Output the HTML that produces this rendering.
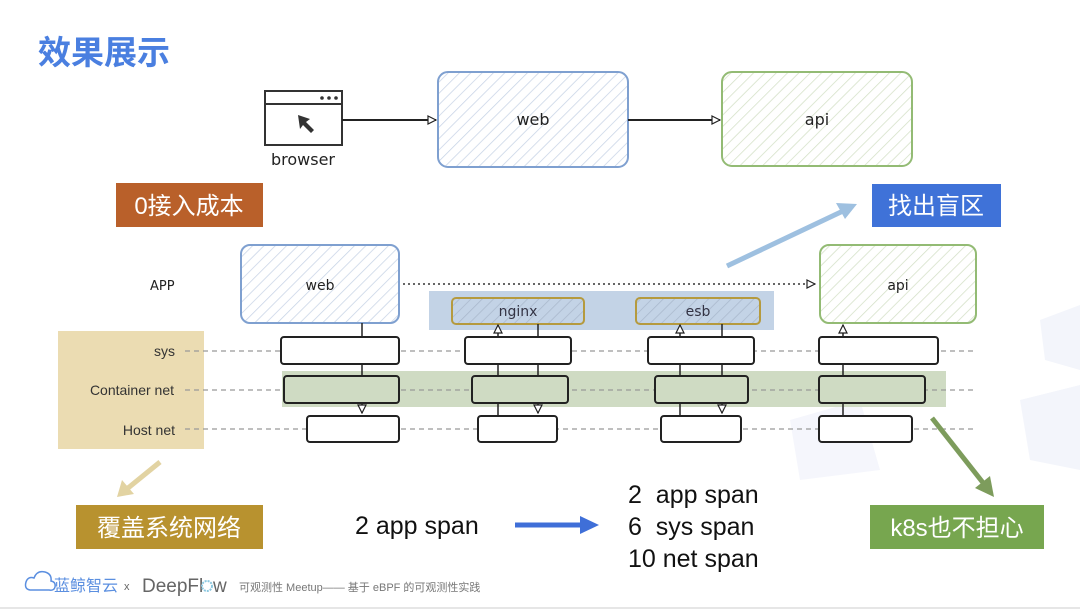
<!DOCTYPE html>
<html><head><meta charset="utf-8"><style>
html,body{margin:0;padding:0;background:#fff;width:1080px;height:610px;overflow:hidden}
text{font-family:"Liberation Sans","Noto Sans CJK SC",sans-serif}
.h{font-family:"DejaVu Sans","Noto Sans CJK SC",sans-serif}
</style></head><body>
<svg width="1080" height="610" viewBox="0 0 1080 610" xmlns="http://www.w3.org/2000/svg">
<defs>
<pattern id="hb" width="8" height="8" patternUnits="userSpaceOnUse" patternTransform="rotate(45)"><line x1="0" y1="0" x2="0" y2="8" stroke="#c7d3e6" stroke-width="1.5"/></pattern>
<pattern id="hg" width="8" height="8" patternUnits="userSpaceOnUse" patternTransform="rotate(45)"><line x1="0" y1="0" x2="0" y2="8" stroke="#d3e0c6" stroke-width="1.5"/></pattern>
<pattern id="hn" width="8" height="8" patternUnits="userSpaceOnUse" patternTransform="rotate(45)"><line x1="0" y1="0" x2="0" y2="8" stroke="#a9b8cc" stroke-width="1.5"/></pattern>
<marker id="ah" markerWidth="10" markerHeight="10" refX="9" refY="5" orient="auto" markerUnits="userSpaceOnUse"><path d="M1,1 L9,5 L1,9 Z" fill="#fff" stroke="#222" stroke-width="1.2"/></marker>
</defs>
<polygon points="1040,320 1080,305 1080,370 1045,360" fill="#f3f5fb"/>
<polygon points="1020,400 1080,385 1080,470 1030,460" fill="#f3f5fb"/>
<polygon points="790,420 860,400 880,470 800,480" fill="#f5f6fc"/>
<text x="38" y="64" font-size="33" font-weight="bold" fill="#4a7fe0">效果展示</text>

<rect x="265" y="91" width="77" height="54" fill="#fff" stroke="#333" stroke-width="2"/>
<line x1="265" y1="104" x2="342" y2="104" stroke="#333" stroke-width="2"/>
<circle cx="322" cy="98" r="1.8" fill="#333"/><circle cx="329" cy="98" r="1.8" fill="#333"/><circle cx="336" cy="98" r="1.8" fill="#333"/>
<path d="M298,115 L310,119 L306,122 L314,130 L311,133 L303,125 L300,129 Z" fill="#333"/>
<text x="303" y="165" font-size="16" text-anchor="middle" fill="#222" class="h">browser</text>
<line x1="342" y1="120" x2="436" y2="120" stroke="#222" stroke-width="2" marker-end="url(#ah)"/>
<rect x="438" y="72" width="190" height="95" rx="10" fill="url(#hb)" stroke="#7fa0d0" stroke-width="2"/>
<text x="533" y="125" font-size="16" text-anchor="middle" fill="#222" class="h">web</text>
<line x1="628" y1="120" x2="720" y2="120" stroke="#222" stroke-width="2" marker-end="url(#ah)"/>
<rect x="722" y="72" width="190" height="94" rx="10" fill="url(#hg)" stroke="#93bb74" stroke-width="2"/>
<text x="817" y="125" font-size="16" text-anchor="middle" fill="#222" class="h">api</text>

<rect x="116" y="183" width="147" height="44" fill="#b9602a"/>
<text x="189" y="214" font-size="24" text-anchor="middle" fill="#fff">0接入成本</text>
<rect x="872" y="184" width="129" height="43" fill="#3f72d8"/>
<text x="936" y="214" font-size="24" text-anchor="middle" fill="#fff">找出盲区</text>
<line x1="727" y1="266" x2="843" y2="211" stroke="#9ec0e0" stroke-width="5"/>
<polygon points="857,204 836,203 845,219" fill="#9ec0e0"/>

<rect x="58" y="331" width="146" height="118" fill="#ebdcb2"/>
<rect x="429" y="291" width="345" height="39" fill="#c3d3e6"/>
<rect x="282" y="371" width="664" height="36" fill="#cfdbc3"/>
<g stroke="#999" stroke-width="1.3" stroke-dasharray="5,4">
<line x1="185" y1="351" x2="975" y2="351"/>
<line x1="185" y1="390" x2="975" y2="390"/>
<line x1="185" y1="429" x2="975" y2="429"/>
</g>
<text x="150" y="290" font-size="13" fill="#222" class="h">APP</text>
<g font-size="14" fill="#333" text-anchor="end" class="h">
<text x="175" y="356">sys</text>
<text x="174" y="395">Container net</text>
<text x="175" y="435">Host net</text>
</g>
<rect x="241" y="245" width="158" height="78" rx="9" fill="url(#hb)" stroke="#7fa0d0" stroke-width="2"/>
<text x="320" y="290" font-size="14" text-anchor="middle" fill="#222" class="h">web</text>
<line x1="403" y1="284" x2="815" y2="284" stroke="#333" stroke-width="1.5" stroke-dasharray="2,3" marker-end="url(#ah)"/>
<rect x="820" y="245" width="156" height="78" rx="9" fill="url(#hg)" stroke="#93bb74" stroke-width="2"/>
<text x="898" y="290" font-size="14" text-anchor="middle" fill="#222" class="h">api</text>
<rect x="452" y="298" width="132" height="26" rx="4" fill="url(#hn)" stroke="#b59a3e" stroke-width="2"/>
<text x="518" y="316" font-size="14" text-anchor="middle" fill="#334" class="h">nginx</text>
<rect x="636" y="298" width="124" height="26" rx="4" fill="url(#hn)" stroke="#b59a3e" stroke-width="2"/>
<text x="698" y="316" font-size="14" text-anchor="middle" fill="#334" class="h">esb</text>

<g stroke="#222" stroke-width="1.5">
<line x1="362" y1="323" x2="362" y2="413" marker-end="url(#ah)"/>
<line x1="498" y1="416" x2="498" y2="325" marker-end="url(#ah)"/>
<line x1="538" y1="324" x2="538" y2="413" marker-end="url(#ah)"/>
<line x1="680" y1="416" x2="680" y2="325" marker-end="url(#ah)"/>
<line x1="722" y1="324" x2="722" y2="413" marker-end="url(#ah)"/>
<line x1="843" y1="416" x2="843" y2="325" marker-end="url(#ah)"/>
</g>
<g stroke="#222" stroke-width="2" fill="#fff">
<rect x="281" y="337" width="118" height="27" rx="3"/>
<rect x="465" y="337" width="106" height="27" rx="3"/>
<rect x="648" y="337" width="106" height="27" rx="3"/>
<rect x="819" y="337" width="119" height="27" rx="3"/>
<rect x="307" y="416" width="92" height="26" rx="3"/>
<rect x="478" y="416" width="79" height="26" rx="3"/>
<rect x="661" y="416" width="80" height="26" rx="3"/>
<rect x="819" y="416" width="93" height="26" rx="3"/>
</g>
<g stroke="#222" stroke-width="2" fill="#cfdbc3">
<rect x="284" y="376" width="115" height="27" rx="3"/>
<rect x="472" y="376" width="96" height="27" rx="3"/>
<rect x="655" y="376" width="93" height="27" rx="3"/>
<rect x="819" y="376" width="106" height="27" rx="3"/>
</g>

<line x1="932" y1="418" x2="984" y2="484" stroke="#7d9c5c" stroke-width="5"/>
<polygon points="994,497 975,488 990,476" fill="#7d9c5c"/>
<line x1="160" y1="462" x2="128" y2="488" stroke="#e2d3a2" stroke-width="5"/>
<polygon points="117,497 122,480 134,494" fill="#e2d3a2"/>

<rect x="76" y="505" width="187" height="44" fill="#b8922f"/>
<text x="169" y="536" font-size="24" text-anchor="middle" fill="#fff">覆盖系统网络</text>
<rect x="870" y="505" width="174" height="44" fill="#77a64f"/>
<text x="957" y="536" font-size="24" text-anchor="middle" fill="#fff">k8s也不担心</text>

<text x="355" y="534" font-size="25" fill="#111">2 app span</text>
<line x1="515" y1="525" x2="582" y2="525" stroke="#3f6fd8" stroke-width="5"/>
<polygon points="599,525 580,516 580,534" fill="#3f6fd8"/>
<g font-size="25" fill="#111">
<text x="628" y="503">2&#160;&#160;app span</text>
<text x="628" y="535">6&#160;&#160;sys span</text>
<text x="628" y="567">10 net span</text>
</g>

<path d="M30,590 q-6,-1 -4,-8 q2,-6 8,-4 q3,-8 11,-6 q7,2 6,9 q5,1 4,6 q-1,4 -6,3 Z" fill="none" stroke="#5b8fe0" stroke-width="1.5"/>
<text x="54" y="591" font-size="16" fill="#5b8fe0">蓝鲸智云</text>
<text x="124" y="590" font-size="11" fill="#666">x</text>
<text x="142" y="592" font-size="19" fill="#666">DeepFl</text>
<circle cx="207" cy="586" r="5" fill="none" stroke="#8cc8e0" stroke-width="2" stroke-dasharray="2,1"/>
<text x="213" y="592" font-size="19" fill="#666">w</text>
<text x="239" y="591" font-size="11" fill="#777">可观测性 Meetup—— 基于 eBPF 的可观测性实践</text>
<line x1="0" y1="608" x2="1080" y2="608" stroke="#e6e6e6" stroke-width="2"/>
</svg>
</body></html>
